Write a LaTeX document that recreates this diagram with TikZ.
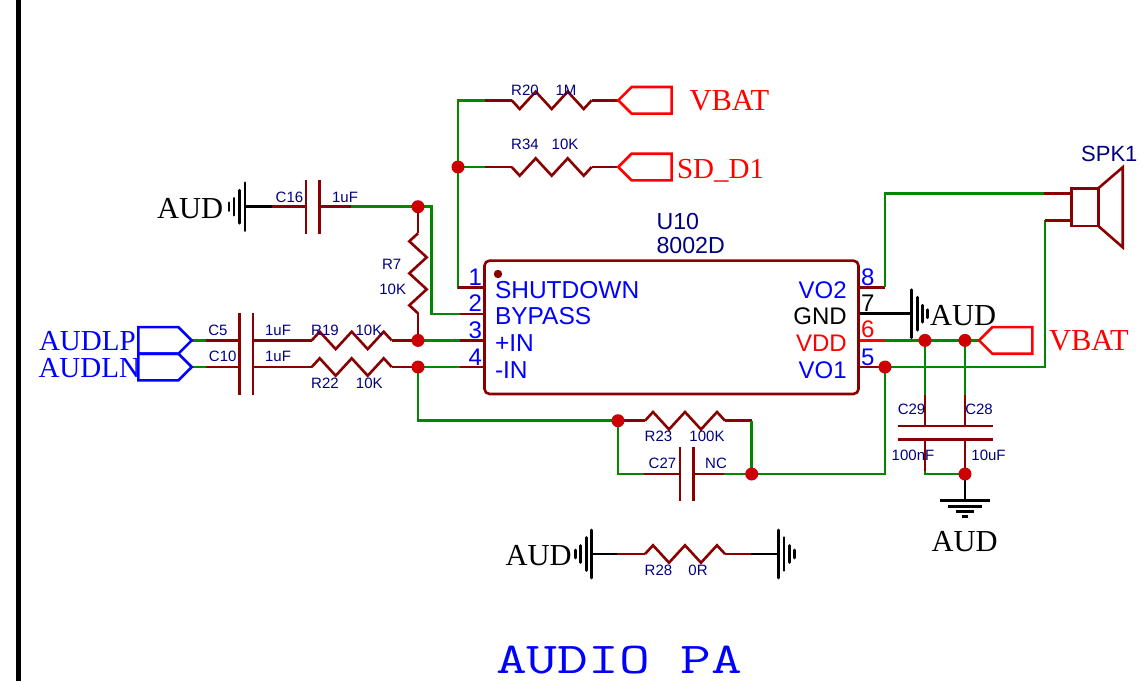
\documentclass[tikz,border=0pt]{standalone}
\usepackage{fontspec}
\setmainfont{Liberation Serif}
\setsansfont{Liberation Sans}
\setmonofont{Latin Modern Mono}
\usetikzlibrary{backgrounds}
\definecolor{wirec}{HTML}{008800}
\definecolor{partc}{HTML}{880000}
\definecolor{dotc}{HTML}{CC0000}
\definecolor{navyc}{HTML}{000080}
\definecolor{bluec}{HTML}{0000FF}
\definecolor{redc}{HTML}{FF0000}
\newcommand{\fs}[1]{\fontsize{#1}{#1}\selectfont}
\tikzset{
  x=1pt,y=-1pt,
  every node/.style={inner sep=0pt,outer sep=0pt},
  wire/.style={draw=wirec,line width=2.6pt,line join=miter},
  lead/.style={draw=partc,line width=2.6pt,line join=miter},
  blk/.style={draw=black,line width=2.6pt},
  redw/.style={draw=redc,line width=2.6pt},
  blueport/.style={draw=bluec,line width=2.6pt,line join=miter},
  redport/.style={draw=redc,line width=2.6pt,line join=miter},
  junc/.style={circle,fill=dotc,minimum size=13pt},
  small/.style={font=\sffamily\fs{15},text=navyc,anchor=center},
  title/.style={font=\rmfamily\fs{30.5},anchor=base west},
  pinname/.style={font=\sffamily\fs{24.5},anchor=base west},
  pinnamer/.style={font=\sffamily\fs{24},anchor=base east},
  pinnum/.style={font=\sffamily\fs{24},anchor=base east},
  pinnumr/.style={font=\sffamily\fs{24},anchor=base west},
  chip/.style={draw=partc,line width=2.6pt,rounded corners=5pt,minimum width=374pt,minimum height=133.3pt},
  resh/.pic={\draw[lead,line join=miter] (0,0)--(8,-8.7)--(24,8.7)--(40,-8.7)--(56,8.7)--(72,-8.7)--(80,0);
    \coordinate (-a) at (0,0);\coordinate (-b) at (80,0);},
  resv/.pic={\draw[lead,line join=miter] (0,0)--(-8.7,8)--(8.7,24)--(-8.7,40)--(8.7,56)--(-8.7,72)--(0,80);
    \coordinate (-a) at (0,0);\coordinate (-b) at (0,80);},
  gndh/.pic={\draw[blk,line cap=round] (0,-24)--(0,24) (5.5,-16.5)--(5.5,16.5) (11,-8.5)--(11,8.5) (16,-4)--(16,4);
    \coordinate (-a) at (0,0);},
  gndv/.pic={\draw[blk] (-25,0)--(25,0) (-17,5.5)--(17,5.5) (-9,11)--(9,11) (-3.3,16)--(3.3,16);
    \coordinate (-a) at (0,0);},
  port/.pic={\draw[pic actions] (0,0)--(13.3,-13.3)--(53.3,-13.3)--(53.3,13.3)--(13.3,13.3)--cycle;
    \coordinate (-a) at (0,0);},
  caph/.pic={\draw[lead] (0,-27)--(0,27) (13.7,-27)--(13.7,27);
    \coordinate (-a) at (0,0);\coordinate (-b) at (13.7,0);},
}
\begin{document}
\begin{tikzpicture}
\useasboundingbox (0,0) rectangle (1146,681);
% frame line
\coordinate (ft) at (18.3,0);
\coordinate (fb) at (18.3,681);
\draw[black,line width=5pt] (ft)--(fb);
% chip
\node[chip] (u10) at (671.5,327.3) {};
\fill[partc] (498,274) circle (4.2);
\node[font=\sffamily\fs{23.2},text=navyc,anchor=base west] (lu) at (656.5,229) {U10};
\node[font=\sffamily\fs{23.2},text=navyc,anchor=base west] (lm) at (656.5,253) {8002D};
% pin coordinates
\coordinate (p1) at (484.7,287.3);\coordinate (p2) at (484.7,314);
\coordinate (p3) at (484.7,340.4);\coordinate (p4) at (484.7,367);
\coordinate (p8) at (858.3,287.3);\coordinate (p7) at (858.3,313.7);
\coordinate (p6) at (858.3,340.4);\coordinate (p5) at (858.3,367);
% pin text
\foreach \n/\t/\y in {a/SHUTDOWN/298,b/BYPASS/324.5,c/+IN/351,d/-IN/378}
  \node[pinname,text=bluec] (name\n) at (495,\y) {\t};
\node[pinnamer,text=bluec] (nvo2) at (846.7,298) {VO2};
\node[pinnamer,text=black] (ngnd) at (846.7,324.5) {GND};
\node[pinnamer,text=redc] (nvdd) at (846.7,351) {VDD};
\node[pinnamer,text=bluec] (nvo1) at (846.7,378) {VO1};
\foreach \n/\y in {1/285,2/311.7,3/338,4/365}
  \node[pinnum,text=bluec] (num\n) at (482,\y) {\n};
\node[pinnumr,text=bluec] (num8) at (861,285) {8};
\node[pinnumr,text=black] (num7) at (861,311.3) {7};
\node[pinnumr,text=redc] (num6) at (861,337.7) {6};
\node[pinnumr,text=bluec] (num5) at (861,365) {5};
% junctions
\node[junc] (jt) at (458,167) {};
\node[junc] (ja) at (418,206.7) {};
\node[junc] (jb) at (418,340.4) {};
\node[junc] (jc) at (418,367) {};
\node[junc] (jd) at (618,420.7) {};
\node[junc] (je) at (751.7,474) {};
\node[junc] (jf) at (885,367) {};
\node[junc] (jg) at (925,340.4) {};
\node[junc] (jh) at (965,340.4) {};
\node[junc] (ji) at (965,474) {};
% parts
\pic (r20) at (511.7,100.3) [yscale=-1] {resh};
\pic (r34) at (511.7,167) [yscale=-1] {resh};
\pic (r19) at (311.7,340.4) {resh};
\pic (r22) at (311.7,367) {resh};
\pic (r23) at (645,420.7) {resh};
\pic (r28) at (645,554) {resh};
\pic (r7) at (418,233.3) {resv};
\pic (c16) at (306,206.7) {caph};
\pic (c5) at (239.3,340.4) {caph};
\pic (c10) at (239.3,367.6) {caph};
\pic (c27) at (680,474) {caph};
% ports
\pic[blueport] (pa) at (191.7,340.4) [xscale=-1] {port};
\pic[blueport] (pb) at (191.7,367) [xscale=-1] {port};
\pic[redport] (pc) at (618.3,100.3) {port};
\pic[redport] (pd) at (618.3,167) {port};
\pic[redport] (pe) at (979,340.4) {port};
% ground symbols
\pic (g1) at (245,206.7) [xscale=-1] {gndh};
\pic (g2) at (911.7,313.7) {gndh};
\pic (g3) at (591.7,554) [xscale=-1] {gndh};
\pic (g4) at (778.3,554) {gndh};
\pic (g5) at (965,500.7) {gndv};
% capacitor plates
\coordinate (c29t) at (925,426);\coordinate (c29b) at (925,439.3);
\coordinate (c28t) at (965,426);\coordinate (c28b) at (965,439.3);
\draw[lead] (898,426)--(951.7,426) (898,439.3)--(951.7,439.3)
  (938,426)--(992.7,426) (938,439.3)--(992.7,439.3);
% speaker
\coordinate (sa) at (1071.7,193.7);\coordinate (sb) at (1071.7,220.3);
\draw[lead] (1071.7,188.3) rectangle (1098.3,226);
\draw[lead] (1098.3,188.3)--(1122.7,167.3)--(1122.7,247.3)--(1098.3,226);
\begin{scope}[on background layer]
% top resistors
\coordinate (w1) at (485.3,100.3);
\coordinate (w1b) at (485.3,167);
\draw[wire] (p1)-|(458,100.3)--(w1);
\draw[wire] (jt.center)--(w1b);
\draw[lead] (w1)--(r20-a) (r20-b)--(pc-a);
\draw[lead] (w1b)--(r34-a) (r34-b)--(pd-a);
\draw[lead] (458,287.3)--(p1);
% C16 branch
\coordinate (w2) at (351,206.7);
\coordinate (w2b) at (272,206.7);
\draw[wire] (w2)--(ja.center);
\draw[wire] (ja.center)--(431.7,206.7)--(431.7,314)--(460,314);
\draw[lead] (460,314)--(p2);
\draw[lead] (c16-b)--(w2) (w2b)--(c16-a);
\draw[blk] (g1-a)--(w2b);
\draw[lead] (ja.center)--(r7-a) (r7-b)--(jb.center);
% inputs
\coordinate (w3) at (205.7,340.4);
\coordinate (w4) at (205.7,367);
\draw[wire] (pa-a)--(w3);
\draw[wire] (pb-a)--(w4);
\draw[lead] (w3)--(c5-a) (c5-b)--(r19-a) (r19-b)--(jb.center);
\draw[lead] (w4)--(239.3,367) (253,367)--(r22-a) (r22-b)--(jc.center);
\draw[wire] (jb.center)--(460,340.4);
\draw[wire] (jc.center)--(460,367);
\draw[lead] (460,340.4)--(p3) (460,367)--(p4);
% feedback
\draw[wire] (jc.center)|-(jd.center);
\draw[lead] (jd.center)--(r23-a) (r23-b)--(751.7,420.7);
\draw[wire] (751.7,420.7)--(je.center);
\draw[wire] (jd.center)--(618,474)--(644,474);
\draw[lead] (644,474)--(c27-a) (c27-b)--(724,474);
\draw[wire] (724,474)--(je.center);
\draw[wire] (je.center)-|(jf.center);
% R28
\draw[blk] (g3-a)--(617.3,554);
\draw[lead] (617.3,554)--(r28-a) (r28-b)--(750.7,554);
\draw[blk] (750.7,554)--(g4-a);
% right pins
\draw[lead] (p8)--(885,287.3);
\draw[wire] (885,287.3)|-(1044.3,193.7);
\draw[lead] (1044.3,193.7)--(sa);
\draw[blk] (p7)--(g2-a);
\draw[redw] (p6)--(885,340.4);
\draw[wire] (885,340.4)--(pe-a);
\draw[lead] (p5)--(jf.center);
\draw[wire] (jf.center)-|(1045,220.3);
\draw[lead] (1045,220.3)--(sb);
% C29, C28
\draw[wire] (jg.center)--(925,395);
\draw[wire] (jh.center)--(965,395);
\draw[lead] (925,395)--(c29t) (965,395)--(c28t);
\draw[lead] (c29b)--(925,471) (c28b)--(ji.center);
\draw[wire] (925,471)--(925,474)--(ji.center);
\draw[blk] (ji.center)--(g5-a);
\end{scope}
% big labels
\node[title,text=black] (t1) at (157,218.3) {AUD};
\node[title,text=black] (t2) at (930,325) {AUD};
\node[title,text=black] (t3) at (931.5,551.7) {AUD};
\node[title,text=black] (t4) at (505.5,565) {AUD};
\node[title,text=redc] (t5) at (689.5,110) {VBAT};
\node[font=\rmfamily\fs{29},text=redc,anchor=base west] (t6) at (677,178) {SD\_D1};
\node[title,text=redc] (t7) at (1049,350) {VBAT};
\node[font=\rmfamily\fs{29},text=bluec,anchor=base west] (t8) at (39,350) {AUDLP};
\node[font=\rmfamily\fs{29},text=bluec,anchor=base west] (t9) at (38.5,377) {AUDLN};
\node[font=\sffamily\fs{22},text=navyc,anchor=center] (spk) at (1109.3,154) {SPK1};
\node[anchor=base west,font=\ttfamily\fs{44}\addfontfeature{FakeStretch=1.36},text=bluec] (ttl) at (496,673) {AUDIO PA};
% small labels
\node[small] (l1) at (289.5,197) {C16};
\node[small] (l2) at (345,197) {1uF};
\node[small] (l3) at (391.7,264) {R7};
\node[small] (l4) at (392.7,289) {10K};
\node[small] (l5) at (218,330) {C5};
\node[small] (l6) at (278,330) {1uF};
\node[small] (l7) at (325,330) {R19};
\node[small] (l8) at (369,330) {10K};
\node[small] (l9) at (222.7,356.7) {C10};
\node[small] (l10) at (278,356.7) {1uF};
\node[small] (l11) at (325,383) {R22};
\node[small] (l12) at (369.3,383) {10K};
\node[small] (l13) at (525,90) {R20};
\node[small] (l14) at (566,90) {1M};
\node[small] (l15) at (525,144) {R34};
\node[small] (l16) at (565,144) {10K};
\node[small] (l17) at (658.5,436.5) {R23};
\node[small] (l18) at (707,436.5) {100K};
\node[small] (l19) at (662.5,463.5) {C27};
\node[small] (l20) at (716,463.5) {NC};
\node[small] (l21) at (658.5,570) {R28};
\node[small] (l22) at (698,570) {0R};
\node[small] (l23) at (911.5,409.5) {C29};
\node[small] (l24) at (979,409.5) {C28};
\node[small] (l25) at (913,455.5) {100nF};
\node[small] (l26) at (988.5,455.5) {10uF};
\end{tikzpicture}
\end{document}
